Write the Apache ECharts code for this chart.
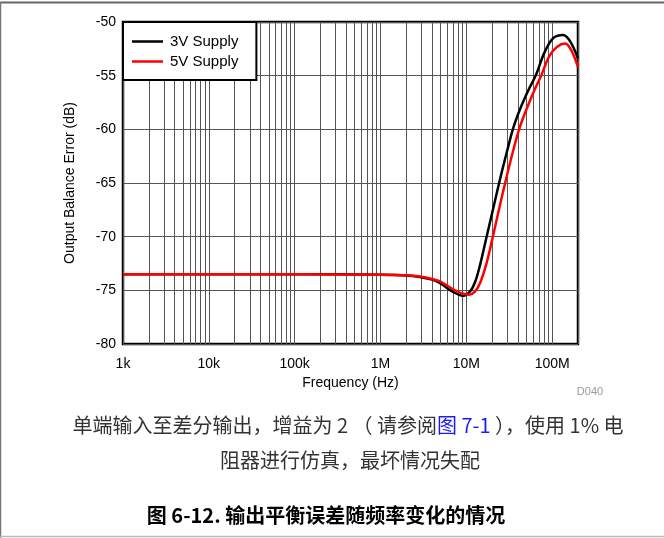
<!DOCTYPE html>
<html>
<head>
<meta charset="utf-8">
<script src="https://cdn.jsdelivr.net/npm/echarts@6/dist/echarts.min.js"></script>
<style>
    html, body { margin: 0; padding: 0; background: #fff; }
    #chart { width: 664px; height: 538px; }
</style>
</head>
<body>
<div id="chart"></div>
<script>
// 频率 (Hz) 与输出平衡误差 (dB)
var freq3V = [1e3, 1e4, 1e5, 1e6, 2e6, 2.9e6, 4e6, 5e6, 7e6, 9.18e6, 1.107e7, 1.268e7, 1.449e7, 1.702e7, 2.053e7, 2.477e7, 2.99e7, 3.511e7, 4.233e7, 5.248e7, 6.508e7, 8.07e7, 1.028e8, 1.343e8, 1.622e8, 2e8];
var err3V = [-73.5, -73.5, -73.5, -73.55, -73.62, -73.77, -74.0, -74.35, -75.15, -75.5, -75.1, -74.2, -72.6, -70.2, -67.4, -64.6, -62.0, -59.9, -58.1, -56.4, -54.9, -52.9, -51.5, -51.2, -51.8, -53.4];

var freq5V = [1e3, 1e4, 1e5, 1e6, 2e6, 2.9e6, 4e6, 5e6, 7e6, 9e6, 1.079e7, 1.268e7, 1.449e7, 1.702e7, 1.999e7, 2.41e7, 2.91e7, 3.511e7, 4.12e7, 4.98e7, 6.17e7, 7.44e7, 9.23e7, 1.143e8, 1.418e8, 1.663e8, 2e8];
var err5V = [-73.5, -73.5, -73.5, -73.55, -73.6, -73.72, -73.95, -74.2, -74.9, -75.3, -75.4, -75.1, -74.3, -72.6, -70.3, -67.4, -64.6, -62.0, -60.0, -58.2, -56.4, -55.0, -53.2, -52.3, -52.0, -52.6, -54.2];

var seriesNames = ['3V Supply', '5V Supply'];
var decades = [1e3, 1e4, 1e5, 1e6, 1e7];
var minorSteps = [2, 3, 4, 5, 6, 7, 8, 9];

var chart = echarts.init(document.getElementById('chart'));

function pairs(xs, ys) {
    var out = [];
    for (var i = 0; i < xs.length; i++) out.push([xs[i], ys[i]]);
    return out;
}

// 对数网格的次网格线
var minorLines = [];
decades.forEach(function (d) {
    minorSteps.forEach(function (m) {
        minorLines.push({xAxis: d * m});
    });
});
minorLines.push({xAxis: 1e8});

function freqLabel(v) {
    var lg = Math.log10(v);
    if (Math.abs(lg - Math.round(lg)) > 1e-6) return '';
    if (v >= 1e6) return (v / 1e6) + 'M';
    return (v / 1e3) + 'k';
}

var font = 'Arial, "Liberation Sans", sans-serif';
var cjk = '"Noto Sans CJK SC", sans-serif';

var option = {
    backgroundColor: '#fff',
    animation: false,
    grid: {
        left: 123, top: 22, right: 86, bottom: 194,
        show: true,
        borderColor: '#000',
        borderWidth: 2.5,
        backgroundColor: 'transparent'
    },
    legend: {
        data: seriesNames,
        orient: 'vertical',
        left: 123,
        top: 22,
        z: 10,
        icon: 'rect',
        backgroundColor: '#fff',
        borderColor: '#000',
        borderWidth: 2,
        padding: [12, 18, 11, 9],
        itemWidth: 31,
        itemHeight: 2.5,
        itemGap: 5,
        textStyle: {fontFamily: font, fontSize: 15, color: '#000', padding: [0, 0, 0, 2], lineHeight: 14}
    },
    xAxis: {
        type: 'log',
        logBase: 10,
        min: 1e3,
        max: 2e8,
        name: 'Frequency (Hz)',
        nameLocation: 'middle',
        nameGap: 32,
        nameTextStyle: {fontFamily: font, fontSize: 14, color: '#000'},
        axisLine: {show: false},
        axisTick: {show: false},
        axisLabel: {fontFamily: font, fontSize: 14, color: '#000', margin: 13, formatter: freqLabel},
        splitLine: {show: true, lineStyle: {color: '#555', width: 1}}
    },
    yAxis: {
        type: 'value',
        min: -80,
        max: -50,
        interval: 5,
        name: 'Output Balance Error (dB)',
        nameLocation: 'middle',
        nameGap: 46,
        nameTextStyle: {fontFamily: font, fontSize: 14, color: '#000'},
        axisLine: {show: false},
        axisTick: {show: false},
        axisLabel: {fontFamily: font, fontSize: 14, color: '#000', margin: 7},
        splitLine: {show: true, lineStyle: {color: '#555', width: 1}}
    },
    series: [
        {
            name: 'grid-minor',
            type: 'line',
            data: [],
            z: 0,
            silent: true,
            markLine: {
                silent: true,
                z: 1,
                symbol: ['none', 'none'],
                label: {show: false},
                lineStyle: {color: '#555', width: 1, type: 'solid'},
                emphasis: {disabled: true},
                data: minorLines
            }
        },
        {
            name: seriesNames[0],
            type: 'line',
            z: 4,
            smooth: 0.35,
            showSymbol: false,
            symbol: 'none',
            lineStyle: {color: '#000', width: 2.5},
            itemStyle: {color: '#000'},
            data: pairs(freq3V, err3V)
        },
        {
            name: seriesNames[1],
            type: 'line',
            z: 5,
            smooth: 0.35,
            showSymbol: false,
            symbol: 'none',
            lineStyle: {color: '#ff0000', width: 2.5},
            itemStyle: {color: '#ff0000'},
            data: pairs(freq5V, err5V)
        }
    ],
    graphic: [
        {type: 'line', shape: {x1: 0, y1: 2.5, x2: 664, y2: 2.5}, style: {stroke: '#666', lineWidth: 2}},
        {type: 'line', shape: {x1: 0.5, y1: 2, x2: 0.5, y2: 538}, style: {stroke: '#777', lineWidth: 1.5}},
        {type: 'line', shape: {x1: 0, y1: 536.5, x2: 664, y2: 536.5}, style: {stroke: '#bbb', lineWidth: 1.5}},
        {
            type: 'text', x: 590, y: 392,
            style: {text: 'D040', font: '11px ' + font, fill: '#999', align: 'center', verticalAlign: 'middle'}
        },
        {
            type: 'text', x: 348, y: 425,
            style: {
                text: '{n|单端输入至差分输出，增益为 2 （ 请参阅}{b|图 7-1}{n| ），使用 1% 电}',
                align: 'center', verticalAlign: 'middle',
                rich: {
                    n: {fontFamily: cjk, fontSize: 20, fill: '#333'},
                    b: {fontFamily: cjk, fontSize: 20, fill: '#1a1aff'}
                }
            }
        },
        {
            type: 'text', x: 350, y: 460,
            style: {text: '阻器进行仿真，最坏情况失配', font: '20px ' + cjk, fill: '#333', align: 'center', verticalAlign: 'middle'}
        },
        {
            type: 'text', x: 326, y: 515,
            style: {text: '图 6-12. 输出平衡误差随频率变化的情况', font: 'bold 20px ' + cjk, fill: '#000', align: 'center', verticalAlign: 'middle'}
        }
    ]
};

chart.setOption(option);
</script>
</body>
</html>
